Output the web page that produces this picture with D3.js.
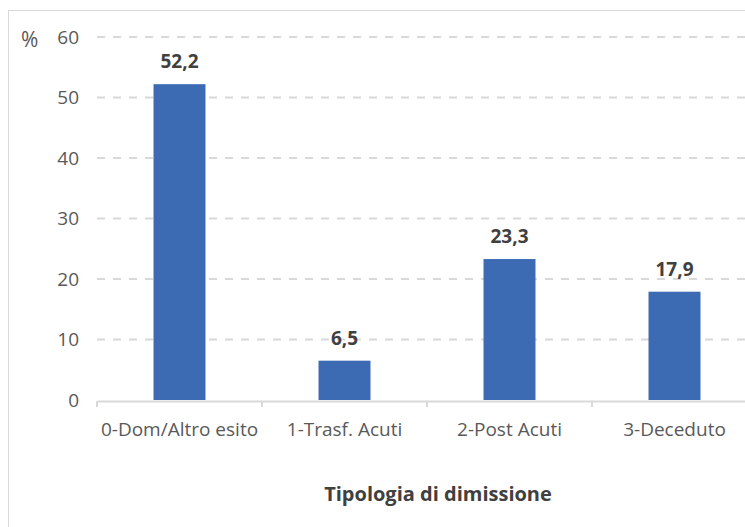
<!DOCTYPE html>
<html lang="it">
<head>
<meta charset="UTF-8">
<title>Tipologia di dimissione</title>
<style>
  body { margin: 0; background: #fff; }
  svg text { font-family: "Open Sans", "Noto Sans", sans-serif; }
</style>
</head>
<body>
<script src="https://d3js.org/d3.v7.min.js"></script>
<script>
  const categories = ["0-Dom/Altro esito", "1-Trasf. Acuti", "2-Post Acuti", "3-Deceduto"];
  const values = [52.2, 6.5, 23.3, 17.9];
  const yTicks = [0, 10, 20, 30, 40, 50, 60];

  const width = 745, height = 527;
  const plotLeft = 97, plotRight = 757, plotTop = 37, plotBottom = 400;

  const svg = d3.select("body").append("svg")
    .attr("width", width)
    .attr("height", height);

  // chart frame
  svg.append("rect")
    .attr("x", 8.5).attr("y", 10.5)
    .attr("width", 760).attr("height", 540)
    .attr("fill", "none")
    .attr("stroke", "#d9d9d9")
    .attr("stroke-width", 1);

  const x = d3.scaleBand()
    .domain(categories)
    .range([plotLeft, plotRight])
    .paddingInner(0.685)
    .paddingOuter(0.3425);

  const y = d3.scaleLinear()
    .domain([0, 60])
    .range([plotBottom, plotTop]);

  // gridlines
  svg.append("g")
    .selectAll("line")
    .data(yTicks.filter(d => d > 0))
    .enter()
    .append("line")
    .attr("x1", plotLeft).attr("x2", width)
    .attr("y1", d => y(d)).attr("y2", d => y(d))
    .attr("stroke", "#d9d9d9")
    .attr("stroke-width", 2)
    .attr("stroke-dasharray", "8,8");

  // y axis labels
  const yAxis = d3.axisLeft(y).tickValues(yTicks).tickSize(0).tickPadding(18);
  const gy = svg.append("g")
    .attr("transform", "translate(" + plotLeft + ",0)")
    .call(yAxis);
  gy.select(".domain").remove();
  gy.selectAll("text")
    .attr("fill", "#595959")
    .style("font-size", "19px");

  svg.append("text")
    .attr("x", 21).attr("y", 47)
    .attr("fill", "#595959")
    .style("font-size", "21px")
    .text("%");

  // bars
  svg.append("g")
    .selectAll("rect")
    .data(values)
    .enter()
    .append("rect")
    .attr("x", (d, i) => x(categories[i]))
    .attr("y", d => y(d))
    .attr("width", x.bandwidth())
    .attr("height", d => y(0) - y(d))
    .attr("fill", "#3c6bb4");

  // value labels
  svg.append("g")
    .selectAll("text")
    .data(values)
    .enter()
    .append("text")
    .attr("x", (d, i) => x(categories[i]) + x.bandwidth() / 2)
    .attr("y", d => y(d) - 16)
    .attr("text-anchor", "middle")
    .attr("fill", "#404040")
    .style("font-size", "19px")
    .style("font-weight", "bold")
    .text(d => d3.format(".1f")(d).replace(".", ","));

  // x axis
  const xAxis = d3.axisBottom(x).tickSize(0).tickPadding(22);
  const gx = svg.append("g")
    .attr("transform", "translate(0," + (plotBottom + 1) + ")")
    .call(xAxis);
  gx.select(".domain").attr("stroke", "#d9d9d9").attr("stroke-width", 2);
  gx.selectAll("text")
    .attr("fill", "#595959")
    .style("font-size", "19px");

  // category separators
  svg.append("g")
    .selectAll("line")
    .data(d3.range(categories.length + 1))
    .enter()
    .append("line")
    .attr("x1", i => plotLeft + i * x.step())
    .attr("x2", i => plotLeft + i * x.step())
    .attr("y1", plotBottom + 1).attr("y2", plotBottom + 7)
    .attr("stroke", "#d9d9d9")
    .attr("stroke-width", 2);

  svg.append("text")
    .attr("x", 438).attr("y", 501)
    .attr("text-anchor", "middle")
    .attr("fill", "#404040")
    .style("font-size", "20px")
    .style("font-weight", "bold")
    .text("Tipologia di dimissione");
</script>
</body>
</html>
